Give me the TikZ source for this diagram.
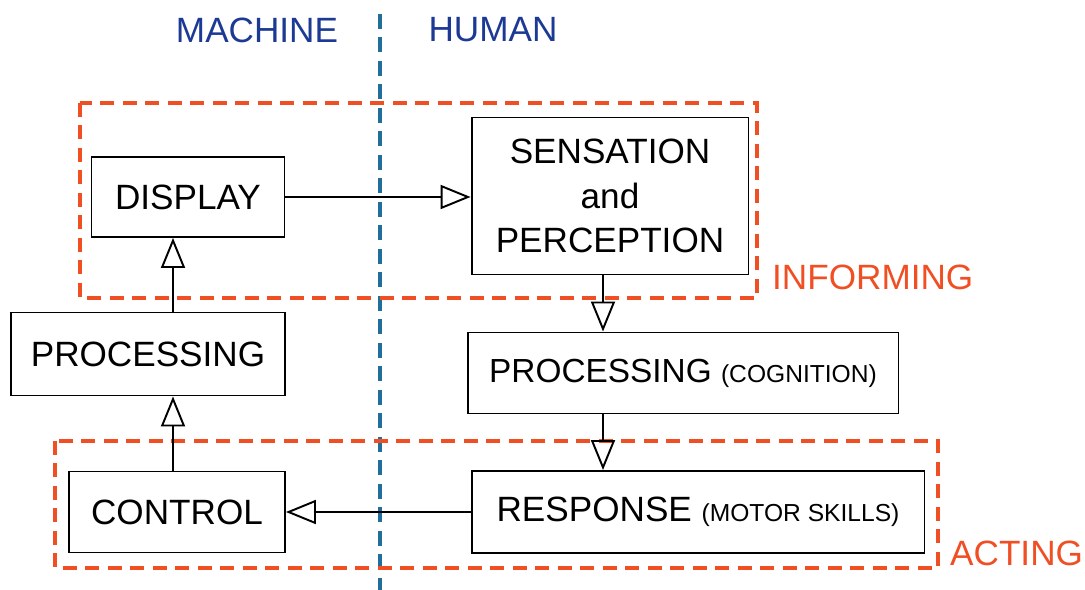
\documentclass[tikz,border=0pt]{standalone}
\usepackage{fontspec}
\setmainfont{Liberation Sans}
\usetikzlibrary{arrows.meta,positioning}
\definecolor{grpRed}{HTML}{F04E23}
\definecolor{divBlue}{HTML}{1F6E9C}
\definecolor{headBlue}{HTML}{1C3A94}

\begin{document}
\begin{tikzpicture}[
  x=0.02cm, y=-0.02cm,
  box/.style={draw, line width=1.1pt, align=center, inner sep=0pt, font=\fontsize{20}{25.5}\selectfont},
  grp/.style={draw=grpRed, line width=2.3pt, dash pattern=on 0.28cm off 0.17cm},
  grplab/.style={text=grpRed, font=\fontsize{20}{24}\selectfont},
  head/.style={text=headBlue, font=\fontsize{20}{24}\selectfont},
  arr/.style={-{Triangle[open, length=0.6cm, width=0.48cm]}, line width=1.1pt}
]
\useasboundingbox (0,0) rectangle (1085,590);
% machine / human split
\node[head] (mach) at (257,30) {MACHINE};
\node[head] (hum) at (493,30) {HUMAN};
\draw[divBlue, line width=1.8pt, dash pattern=on 0.3cm off 0.17cm] (380,14) coordinate (divtop) -- (380,590) coordinate (divbot);
% groups
\draw[grp] (80,103) rectangle (757,298);
\node[grplab, anchor=west] (inf) at (766,277) {INFORMING};
\draw[grp] (55,441) rectangle (938,568);
\node[grplab, anchor=west] (act) at (944,553) {ACTING};
% machine side
\node[box, minimum width=3.86cm, minimum height=1.6cm] (disp) at (188,197) {DISPLAY};
\node[box, minimum width=5.48cm, minimum height=1.66cm] (procm) at (148,354) {PROCESSING};
\node[box, minimum width=4.32cm, minimum height=1.62cm] (ctrl) at (177,512) {CONTROL};
% human side
\node[box, minimum width=5.54cm, minimum height=3.14cm] (sens) at (610,196) {SENSATION\\and\\PERCEPTION};
\node[box, minimum width=8.62cm, minimum height=1.62cm] (cog) at (683,373) {\fontsize{19}{24}\selectfont PROCESSING {\fontsize{14}{16}\selectfont(COGNITION)}};
\node[box, minimum width=9.06cm, minimum height=1.64cm] (resp) at (698,512) {RESPONSE {\fontsize{14}{16}\selectfont(MOTOR SKILLS)}};
% loop
\draw[arr] (disp.east) -- (sens.west |- disp.east);
\draw[arr] ([xshift=-0.14cm]sens.south) -- ([xshift=-0.14cm]sens.south |- cog.north);
\draw[arr] ([xshift=-0.14cm]sens.south |- cog.south) -- ([xshift=-0.14cm]sens.south |- resp.north);
\draw[arr] (resp.west) -- (ctrl.east |- resp.west);
\draw[arr] ([xshift=-0.08cm]ctrl.north) -- ([xshift=-0.08cm]ctrl.north |- procm.south);
\draw[arr] ([xshift=-0.08cm]ctrl.north |- procm.north) -- ([xshift=-0.08cm]ctrl.north |- disp.south);
\end{tikzpicture}
\end{document}
